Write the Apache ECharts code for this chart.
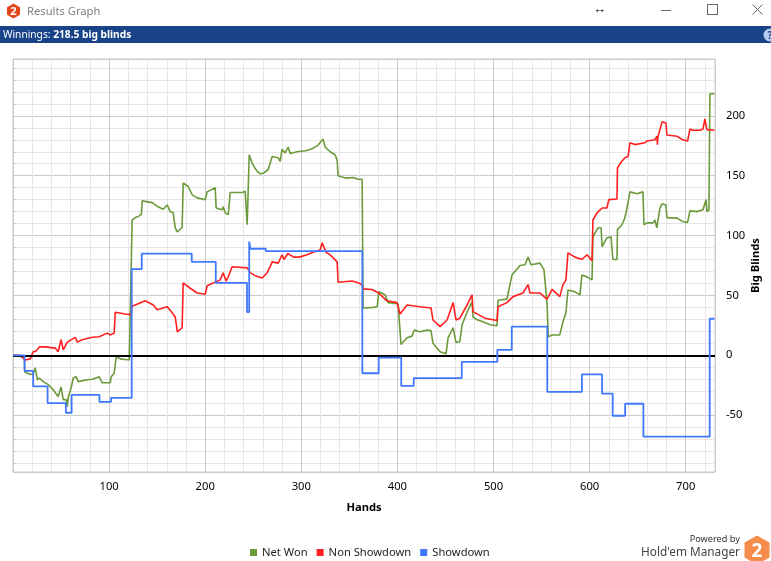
<!DOCTYPE html>
<html><head><meta charset="utf-8">
<script src="https://cdn.jsdelivr.net/npm/echarts@6/dist/echarts.min.js"></script>
<style>
html,body{margin:0;padding:0;background:#fff;width:771px;height:561px;overflow:hidden;font-family:"Segoe UI","Noto Sans","Open Sans",sans-serif;}
#chart{position:absolute;left:0;top:0;width:771px;height:561px;}
.abs{position:absolute;white-space:nowrap;}
#bar{position:absolute;left:0;top:26px;width:771px;height:17px;background:#184389;color:#fff;font-size:10.2px;line-height:17px;}
</style></head>
<body>
<div id="chart"></div>
<svg class="abs" style="left:6px;top:3px" width="15" height="16" viewBox="0 0 15 16">
  <polygon points="7.5,0.5 14,4.2 14,11.8 7.5,15.5 1,11.8 1,4.2" fill="#e4461b"/>
  <text x="7.5" y="12" text-anchor="middle" font-size="11" font-weight="bold" fill="#fff" font-family="Noto Sans, sans-serif">2</text>
</svg>
<div class="abs" style="left:27px;top:3px;font-size:11.2px;color:#808080;">Results Graph</div>
<div class="abs" style="left:593px;top:-1px;font-size:13px;font-weight:bold;color:#111;">&#8596;</div>
<div class="abs" style="left:661px;top:10px;width:10px;height:1px;background:#666;"></div>
<div class="abs" style="left:707px;top:4px;width:9px;height:9px;border:1px solid #666;"></div>
<svg class="abs" style="left:752px;top:4px" width="11" height="11"><line x1="0.5" y1="0.5" x2="10.5" y2="10.5" stroke="#666" stroke-width="1"/><line x1="10.5" y1="0.5" x2="0.5" y2="10.5" stroke="#666" stroke-width="1"/></svg>
<div id="bar"><span style="position:absolute;left:3px;">Winnings: <b>218.5 big blinds</b></span>
  <svg style="position:absolute;left:763px;top:2px" width="14" height="14"><circle cx="7" cy="7" r="6.5" fill="#b7cdee"/><text x="7" y="11" text-anchor="middle" font-size="10" font-weight="bold" fill="#184389">?</text></svg>
</div>
<div class="abs" style="right:31px;top:532px;font-size:9.2px;color:#333;text-align:right;">Powered by</div>
<div class="abs" style="right:31px;top:543px;font-size:11.8px;color:#444;text-align:right;">Hold'em Manager</div>
<svg class="abs" style="left:744px;top:535px" width="26" height="30" viewBox="0 0 26 30">
  <polygon points="13,0.5 25.5,7.5 25.5,22.5 13,29.5 0.5,22.5 0.5,7.5" fill="#f58b4c"/>
  <text x="13" y="22" text-anchor="middle" font-size="19" font-weight="bold" fill="#fff" font-family="Noto Sans, sans-serif">2</text>
</svg>
<script>
// Data: [hand, big blinds]
const netWon = [[0,0],[7.6,-1],[11.8,-2],[12.3,-14],[18,-16],[21,-15.5],[23.2,-10.5],[25.3,-20.5],[27.4,-19],[31.5,-22],[36.7,-24.5],[42,-29],[47,-34.5],[50,-26.5],[52.3,-37],[55.4,-37],[56.5,-43],[57.5,-35],[60.6,-27],[62.7,-19],[65.8,-18],[67.9,-22],[77.3,-20.5],[82.5,-20],[89.8,-18],[92.9,-23],[101.2,-23],[102.2,-18],[105.3,-15],[107.4,-1],[111.6,-3],[121,-4],[123,-3],[124,113],[127.2,115],[130.3,116],[133.5,117.5],[134.5,129],[144.9,127.5],[151,124],[156.3,122],[160.5,125.6],[163.6,120],[166.7,119],[168.8,106.5],[171,103],[176,107],[177.1,144],[182.3,141],[186.5,134],[191.7,131.5],[200,130],[202,136.5],[210.4,140],[211.4,123],[217.7,121.5],[218.7,124],[220.8,119],[224,117.5],[226,136],[238.5,136],[241.6,137],[243.7,109],[244.7,108],[245.8,167.5],[248.9,160.6],[252,156],[255,153],[257.2,151.6],[260.3,152],[265.5,155],[269.7,166],[276,165],[278,162],[280,172],[283.2,169],[286.3,174],[288.4,168.5],[295.7,170],[306,171],[312.3,173],[317.5,175.6],[322.7,180.6],[324.8,174],[330,170],[335.2,167.5],[337.3,163],[338.3,150],[345.6,148],[354,148.5],[359,147],[363.3,147],[364.3,39.5],[374.7,40],[379,40.5],[380.5,53],[387.2,50.5],[390.3,44],[400.7,43],[403.8,9],[410,14.6],[415.3,16],[417.4,21],[423.6,19.6],[430.9,21],[435,20.5],[437,10],[444.4,3],[450.6,1.2],[452.7,14.6],[458,23],[461,10.6],[465,11.5],[467.3,25.5],[472.5,36],[477.7,44.6],[478.7,32],[482.9,29.6],[489,28],[496.4,25.5],[503.7,24.6],[504.7,46],[514,47],[519.2,67],[522.3,70],[527.6,75],[532.8,75.6],[536,82],[539,75.6],[548.4,77],[552.5,71.5],[555.7,44],[557,15.5],[561,17],[569,17],[572.3,28],[575.4,35.5],[577.5,54.6],[584.8,53],[590,50.5],[592,67],[597.3,65.5],[602.5,63],[603.5,99],[608.7,106.5],[612,106.5],[613,90.6],[618,98],[622.3,99],[624.3,80],[628.5,80],[629,105],[633.7,109],[636.8,115],[638.9,123],[640,124],[642,136.5],[649.3,135],[655.5,136.5],[656.6,109],[659.7,110.6],[666,110.6],[668,113],[670,106.5],[671,112],[673.2,123],[675.4,126.5],[679.4,125.6],[680.5,115],[691,114.6],[697,111.6],[702,111],[704.4,120.6],[711.6,120],[718,121.5],[721.2,130],[722.1,120],[724.2,121.5],[725.2,218.5],[730,218.5]];
const nonShowdown = [[0,0],[7.6,0],[12.8,-4],[18,-3],[21,3],[24,3.5],[27.4,7],[33.6,7],[44,6],[47,3],[50,13],[52.3,4.5],[56.5,11],[64.8,15],[67,11],[72,13],[82.5,15],[89.8,15.5],[98,18.5],[101,17],[105.3,18.5],[106.4,36],[116.8,34.5],[123,34],[124,41],[134.5,44.5],[137.6,45.5],[146,42],[150,38],[160.5,40.5],[165.7,35.5],[168.8,32],[171,19.6],[176,23],[177.1,60.5],[184.4,56],[191.7,52],[200,51],[202,58],[215.6,63],[218.7,69],[221.8,62],[224,65.6],[228,74],[243.7,73],[246.8,69],[252,66.5],[259.3,64.5],[264.5,69],[267.6,74],[269.7,78],[276,77],[280,84],[282,80],[286,85],[292,82],[298,82],[306,84],[312.3,86],[319.6,88],[321.7,94],[325.8,86],[330,84],[337.3,78],[338.3,61],[353,62],[359,60.5],[363.3,59],[364.3,55.5],[373.6,55],[380.5,52],[389,45.5],[399.6,44],[402.8,34.5],[410,42],[423.6,40.5],[435,39.5],[437,29.5],[444.4,24],[451.7,29.5],[458,44],[461,29.5],[465,31],[472.5,42],[477.7,50.5],[478.7,36.5],[491,31],[503.7,29],[504.7,40.5],[514,44],[520.3,49],[530.7,52],[536,59],[538,52],[548.4,52],[555.7,47],[561,55],[569,49],[572.3,59],[575.4,63],[577.5,85.6],[584.8,82],[592,80],[597.3,84],[602.5,79],[603.5,113],[607.7,119],[613,123],[618,123],[620,130],[628.5,130.5],[629,156.5],[632.6,161],[636.8,165],[640,166],[642,177.5],[647.3,176],[657.6,177.5],[659.7,179],[668,180],[670,183],[670.6,176],[671,182],[675.4,195],[679.4,194],[680.5,184],[691,183],[697,180],[702,179],[704.4,189],[707.5,188],[714.8,188],[718,189],[720,197.5],[722.1,188.5],[730,188]];
// Showdown is a step series: each point is [hand where it changes, new value]
const showdown = [[0,0],[12,-13],[21,-26],[36,-40],[55,-48],[61,-33],[90,-39],[102,-35.5],[123.5,72],[134,85],[186,78],[211,60.5],[243.5,36],[245.8,95],[247,89],[263,87],[363.5,-15],[380.5,-2],[404,-25.5],[417,-19],[467,-5.5],[504,4.5],[519,24],[556,-30.5],[592,-16],[613,-32],[624,-50.5],[637,-40.5],[656,-68],[725,30.5],[730,30.5]];
const seriesNames = ['Net Won','Non Showdown','Showdown'];
const seriesColors = ['#6a9a3a','#ff1f1f','#3f78ff'];
const xRange = [0, 730.5];
const yRange = [-97.5, 247.5];

const FONT = '"Segoe UI","Noto Sans","Open Sans",sans-serif';
const chart = echarts.init(document.getElementById('chart'));
const gridC = '#cbcbcb', minorC = '#e6e6e6';
chart.setOption({
  animation: false,
  grid: {left: 13, right: 56, top: 59, bottom: 89, show: true, borderColor: gridC, borderWidth: 1,
    containLabel: false, outerBoundsMode: 'none'},
  legend: {
    data: seriesNames, left: 245, top: 542, icon: 'rect', itemWidth: 7, itemHeight: 7, itemGap: 9,
    textStyle: {fontSize: 11.2, color: '#222', fontFamily: FONT}
  },
  xAxis: {
    type: 'value', min: xRange[0], max: xRange[1], splitNumber: 7,
    name: 'Hands', nameLocation: 'middle', nameGap: 30, nameMoveOverlap: false,
    nameTextStyle: {fontWeight: 'bold', fontSize: 11.2, color: '#000', fontFamily: FONT},
    axisLine: {show: true, lineStyle: {color: gridC}},
    axisTick: {show: true, length: 4, lineStyle: {color: gridC}},
    minorTick: {show: true, splitNumber: 5, length: 4, lineStyle: {color: gridC}},
    axisLabel: {margin: 9, color: '#000', fontSize: 11.2, fontFamily: FONT,
      formatter: v => (v > 0 && v % 100 === 0) ? String(v) : ''},
    splitLine: {show: true, lineStyle: {color: gridC}},
    minorSplitLine: {show: true, lineStyle: {color: minorC}}
  },
  yAxis: {
    type: 'value', position: 'right', min: yRange[0], max: yRange[1], splitNumber: 7,
    name: 'Big Blinds', nameLocation: 'middle', nameGap: 35, nameRotate: 90, nameMoveOverlap: false,
    nameTextStyle: {fontWeight: 'bold', fontSize: 11.2, color: '#000', fontFamily: FONT},
    axisLine: {show: true, lineStyle: {color: gridC}},
    axisTick: {show: true, length: 3, lineStyle: {color: gridC}},
    minorTick: {show: true, splitNumber: 5, length: 3, lineStyle: {color: gridC}},
    axisLabel: {margin: 11, color: '#000', fontSize: 11.2, fontFamily: FONT,
      formatter: v => (v % 50 === 0) ? String(v) : ''},
    splitLine: {show: true, lineStyle: {color: gridC}},
    minorSplitLine: {show: true, lineStyle: {color: minorC}}
  },
  series: [
    {name: seriesNames[0], type: 'line', data: netWon, showSymbol: false, color: seriesColors[0],
      lineStyle: {width: 1.6}, z: 3,
      markLine: {silent: true, symbol: ['none','none'], label: {show: false},
        lineStyle: {color: '#000', width: 2, type: 'solid'}, data: [{yAxis: 0}]}},
    {name: seriesNames[1], type: 'line', data: nonShowdown, showSymbol: false, color: seriesColors[1],
      lineStyle: {width: 1.6}, z: 4},
    {name: seriesNames[2], type: 'line', data: showdown, step: 'end', showSymbol: false, color: seriesColors[2],
      lineStyle: {width: 1.8}, z: 5}
  ]
});
</script>
</body></html>
